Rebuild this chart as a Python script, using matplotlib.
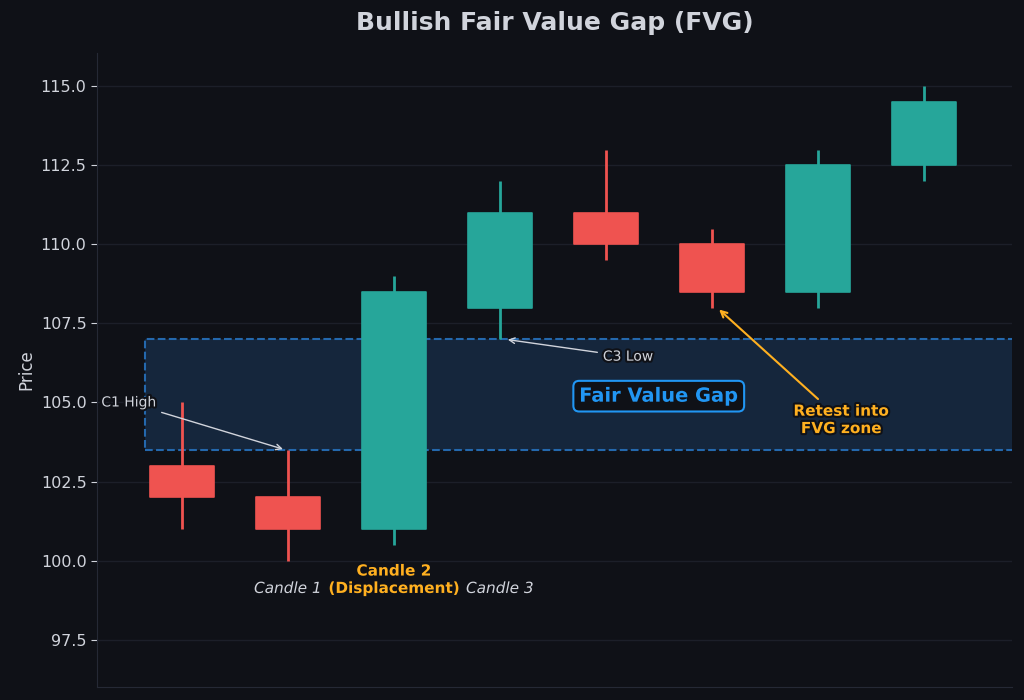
import matplotlib
matplotlib.use("Agg")
import matplotlib.pyplot as plt
from matplotlib.patches import Rectangle
import matplotlib.patheffects as pe

plt.rcParams["font.family"] = ["DejaVu Sans"]

# Data
idx = [0, 1, 2, 3, 4, 5, 6, 7]
opens = [103.0, 102.0, 101.0, 108.0, 111.0, 110.0, 108.5, 112.5]
closes = [102.0, 101.0, 108.5, 111.0, 110.0, 108.5, 112.5, 114.5]
highs = [105.0, 103.5, 109.0, 112.0, 113.0, 110.5, 113.0, 115.0]
lows = [101.0, 100.0, 100.5, 107.0, 109.5, 108.0, 108.0, 112.0]
fvg_low = 103.5
fvg_high = 107.0
candle_labels = ["Candle 1", "Candle 2\n(Displacement)", "Candle 3"]
candle_label_x = [1, 2, 3]
yticks = [97.5, 100.0, 102.5, 105.0, 107.5, 110.0, 112.5, 115.0]

BG = "#0f1117"
UP = "#26a69a"
DOWN = "#ef5350"
TXT = "#d1d4dc"
ORANGE = "#ffb020"
BLUE = "#2196f3"

fig = plt.figure(figsize=(10.24, 7), dpi=100, facecolor=BG)
ax = fig.add_axes([0.0947, 0.0186, 0.8933, 0.9054])
ax.set_facecolor(BG)

stroke = [pe.withStroke(linewidth=3, foreground=BG)]

# FVG zone
zone = Rectangle((-0.35, fvg_low), 9.0, fvg_high - fvg_low,
                 facecolor="#15263c", edgecolor="#2468ad", linestyle="--",
                 linewidth=1.5, zorder=1)
ax.add_patch(zone)

# Candles
w = 0.6
for x, o, c, h, l in zip(idx, opens, closes, highs, lows):
    col = UP if c >= o else DOWN
    ax.vlines(x, l, h, color=col, linewidth=2, zorder=2)
    ax.add_patch(Rectangle((x - w / 2, min(o, c)), w, abs(c - o),
                           facecolor=col, edgecolor=col, linewidth=1.2,
                           joinstyle="round", zorder=3))

# Candle labels
for x, lab in zip(candle_label_x, candle_labels):
    if "Displacement" in lab:
        ax.text(x, 98.88, lab, ha="center", va="bottom", fontsize=11,
                fontweight="bold", color=ORANGE, path_effects=stroke, zorder=5)
    else:
        ax.text(x, 98.88, lab, ha="center", va="bottom", fontsize=11,
                style="italic", color=TXT, path_effects=stroke, zorder=5)

# Annotations
ax.annotate("C1 High", xy=(0.98, 103.5), xytext=(-0.5, 105.0),
            ha="center", va="center", fontsize=10, color=TXT,
            path_effects=stroke, zorder=6,
            arrowprops=dict(arrowstyle="->", color=TXT, lw=1))
ax.annotate("C3 Low", xy=(3.05, 107.0), xytext=(4.21, 106.45),
            ha="center", va="center", fontsize=10, color=TXT,
            path_effects=stroke, zorder=6,
            arrowprops=dict(arrowstyle="->", color=TXT, lw=1))
ax.text(4.5, 105.2, "Fair Value Gap", ha="center", va="center", fontsize=14,
        fontweight="bold", color=BLUE, path_effects=stroke, zorder=6,
        bbox=dict(boxstyle="round,pad=0.3", facecolor=BG, edgecolor=BLUE, lw=1.5))
ax.annotate("Retest into\nFVG zone", xy=(5.05, 108.0), xytext=(6.22, 104.45),
            ha="center", va="center", fontsize=11, fontweight="bold",
            color=ORANGE, path_effects=stroke, zorder=6,
            arrowprops=dict(arrowstyle="->", color=ORANGE, lw=1.5))

# Axes styling
ax.set_xlim(-0.8, 7.83)
ax.set_ylim(96.0, 116.05)
ax.set_yticks(yticks)
ax.set_yticklabels([f"{v:.1f}" for v in yticks])
ax.set_xticks([])
ax.grid(axis="y", color="#1c1f29", linewidth=1, zorder=0)
ax.set_axisbelow(True)
ax.tick_params(axis="y", colors=TXT, labelsize=11.5, length=4)
for s in ["top", "right"]:
    ax.spines[s].set_visible(False)
for s in ["left", "bottom"]:
    ax.spines[s].set_color("#252935")
ax.set_ylabel("Price", color=TXT, fontsize=12)
ax.text(0.5, 1.0 + (53 - 23) / 634.0, "Bullish Fair Value Gap (FVG)",
        transform=ax.transAxes, ha="center", va="center",
        fontsize=18, fontweight="bold", color=TXT)

fig.savefig("out.png", dpi=100, facecolor=BG)
